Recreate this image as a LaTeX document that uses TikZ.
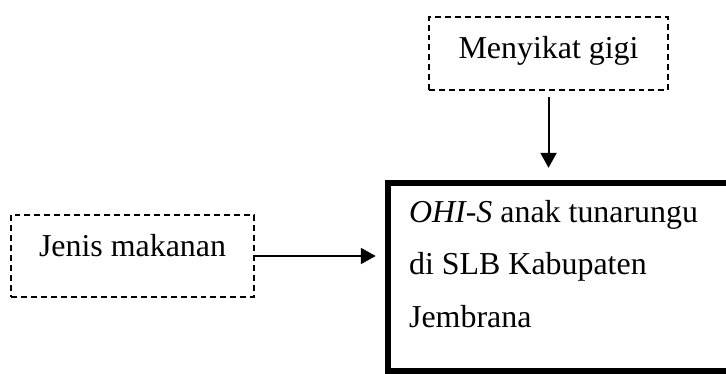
\documentclass[tikz,border=0pt]{standalone}
\usepackage{fontspec}
\setmainfont{Liberation Serif}
\usetikzlibrary{arrows.meta}

\begin{document}
\begin{tikzpicture}[dashbox/.style={draw,line width=0.5pt,dash pattern=on 2.25pt off 1.5pt,font=\fontsize{12}{14}\selectfont},
                    arr/.style={line width=0.75pt,-{Triangle[length=5.6pt,width=6pt]}}]
                \useasboundingbox (0,0) rectangle (9.594,4.942);
                \node[dashbox,minimum width=3.158cm,minimum height=0.965cm,text depth=4.7pt] (gigi) at (7.249,4.235) {Menyikat gigi};
                \node[dashbox,minimum width=3.211cm,minimum height=1.084cm,text depth=7.7pt] (makanan) at (1.751,1.559) {Jenis makanan};
                \node[draw,line width=2.4pt,minimum width=4.52cm,minimum height=2.484cm,text width=3.96cm,align=flush left,text depth=49pt,
                      font=\fontsize{12}{19.6}\selectfont] (ohis) at (7.387,1.282) {\textit{OHI-S} anak tunarungu\\di SLB Kabupaten\\Jembrana};
                \draw[arr,shorten <=2.25pt,shorten >=4.5pt] (gigi.south) -- (gigi.south |- ohis.north);
                \draw[arr,shorten >=3.4pt] (makanan.east) -- (makanan.east -| ohis.west);
            \end{tikzpicture}
\end{document}
